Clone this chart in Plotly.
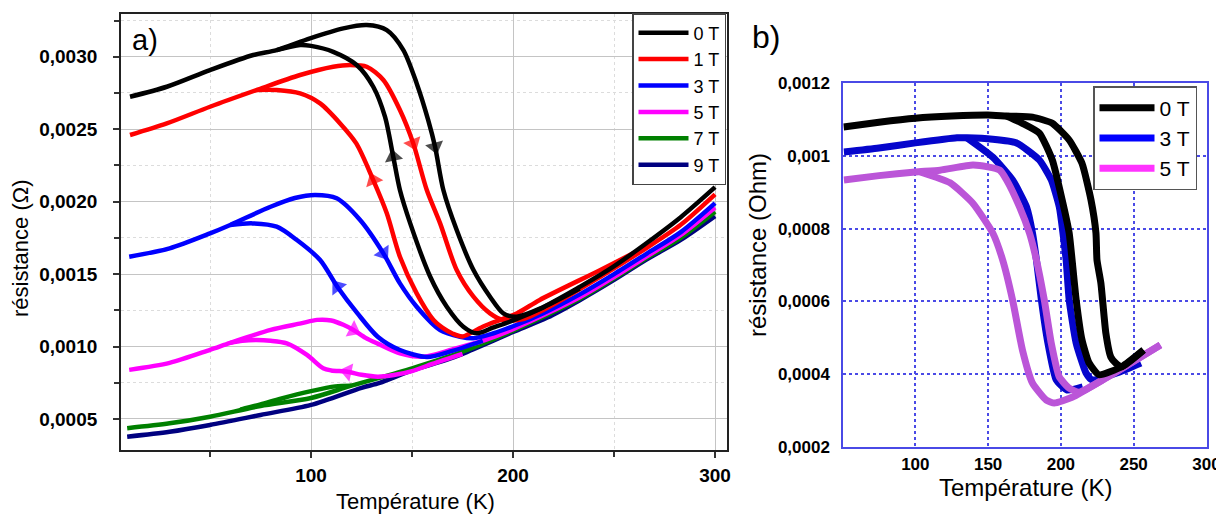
import plotly.graph_objects as go

FONT = "Liberation Sans"
W, H = 1216, 515

# ---------------- Panel a data (T in K, R in Ohm) ----------------
fields_a = ["0 T", "1 T", "3 T", "5 T", "7 T", "9 T"]
colors_a = ["#000000", "#ff0000", "#0000ff", "#ff00ff", "#008000", "#000080"]

T0_warm = [10.4, 28.6, 50, 71.4, 83, 99.5, 116, 127.6, 137.5, 145.7, 152.3, 158, 161.4, 165.5, 172.1,
           180.4, 188.6, 195.2, 201.8, 213, 233, 249.5, 266, 283, 300]
R0_warm = [0.002724, 0.002793, 0.002908, 0.003012, 0.003046, 0.003127, 0.003196, 0.003219, 0.003184,
           0.003046, 0.002816, 0.002563, 0.002379, 0.00208, 0.001804, 0.001528, 0.001344, 0.001229,
           0.001206, 0.00126, 0.001412, 0.00155, 0.001713, 0.001893, 0.0021]
T0_cool = [233, 215, 200, 190, 182, 175.4, 167.2, 159, 149.1, 144, 140.7, 136.6, 130.8, 122.6, 111, 100,
           94.6, 83]
R0_cool = [0.0014, 0.00127, 0.00118, 0.00113, 0.001091, 0.001137, 0.001275, 0.001482, 0.00185, 0.00208,
           0.00231, 0.002586, 0.002793, 0.002943, 0.003034, 0.003075, 0.003081, 0.003046]

T1_warm = [10.4, 28.6, 50, 73, 94.6, 111, 119.3, 127.6, 135.8, 144, 150.6, 157.3, 163.9, 172.1, 180.4,
           188.6, 195.2, 205, 220, 243, 266, 283, 300]
R1_warm = [0.00246, 0.00254, 0.002655, 0.00277, 0.002874, 0.002931, 0.002943, 0.002931, 0.002839,
           0.002632, 0.002402, 0.00208, 0.00185, 0.001528, 0.001344, 0.001229, 0.001183, 0.00119,
           0.00129, 0.00148, 0.00168, 0.00184, 0.00205]
T1_cool = [266, 243, 213, 202, 185, 175, 170, 165, 160.6, 152.3, 144, 137.5, 130.8, 122.4, 114.4, 104.5,
           94.6, 83, 73]
R1_cool = [0.00169, 0.001527, 0.00132, 0.00123, 0.001137, 0.00107, 0.00109, 0.00113, 0.001183, 0.001367,
           0.00162, 0.00192, 0.002149, 0.002402, 0.00254, 0.002678, 0.002747, 0.00277, 0.00277]

T3_warm = [10, 30, 50, 60, 80, 92, 102, 112.7, 124.3, 135.8, 144, 152.3, 163.9, 173.8, 180.3, 190, 200,
           215, 233, 250, 266, 283, 300]
R3_warm = [0.00162, 0.001678, 0.001781, 0.001839, 0.001965, 0.002025, 0.002046, 0.002023, 0.001873,
           0.001643, 0.001436, 0.001275, 0.001114, 0.001068, 0.001057, 0.00109, 0.00114, 0.00123,
           0.00136, 0.0015, 0.00164, 0.00179, 0.00199]
T3_cool = [185, 170, 157.4, 144, 133, 123, 113, 104.5, 93, 83, 71, 60]
R3_cool = [0.00104, 0.00097, 0.000928, 0.000976, 0.001068, 0.001229, 0.001413, 0.001597, 0.001735,
           0.001827, 0.00185, 0.001839]

T5_warm = [10, 30, 50, 60, 80, 95, 103, 110, 116, 121, 127, 133, 144, 156, 170, 185, 200, 233, 250, 266,
           283, 300]
R5_warm = [0.000839, 0.000887, 0.000977, 0.001025, 0.001115, 0.00116, 0.001184, 0.00118, 0.00115,
           0.001114, 0.00106, 0.00102, 0.000953, 0.00093, 0.00098, 0.00104, 0.00112, 0.00134, 0.00148,
           0.00162, 0.00177, 0.00196]
T5_cool = [175, 160, 150, 141, 133, 125, 118, 110, 106, 98, 88, 80, 73, 66, 60]
R5_cool = [0.00095, 0.00088, 0.00083, 0.000803, 0.000792, 0.000805, 0.000826, 0.000835, 0.00085,
           0.000942, 0.001022, 0.00104, 0.001045, 0.00104, 0.001025]

T7_warm = [9, 30, 50, 75, 100, 120, 150, 175, 200, 233, 250, 266, 283, 300]
R7_warm = [0.000436, 0.00047, 0.000516, 0.00059, 0.000645, 0.00073, 0.00085, 0.000965, 0.00111,
           0.00133, 0.00147, 0.00161, 0.00175, 0.00193]
T7_cool = [120, 112, 100, 85, 75, 65]
R7_cool = [0.00073, 0.000725, 0.000692, 0.00064, 0.0006, 0.000565]

T9_warm = [9, 30, 50, 75, 100, 125, 134, 150, 167, 175, 200, 217, 233, 250, 266, 283, 300]
R9_warm = [0.000378, 0.000412, 0.000459, 0.000528, 0.000597, 0.000715, 0.000749, 0.000835, 0.000908,
           0.00095, 0.0011, 0.0012, 0.00132, 0.00146, 0.0016, 0.001736, 0.0019]

# temperatures at which direction arrows sit on each branch
arrows_warm = {"0 T": 161.4, "1 T": 150.6, "3 T": 135.8, "5 T": 121}
arrows_cool = {"0 T": 140.7, "1 T": 130.8, "3 T": 113, "5 T": 118}

ticks_a_y = [0.0005, 0.0010, 0.0015, 0.0020, 0.0025, 0.0030]
minor_a_y = [0.00075, 0.00125, 0.00175, 0.00225, 0.00275, 0.00325]
ticks_a_x = [100, 200, 300]
minor_a_x = [50, 150, 250]

# ---------------- Panel b data ----------------
fields_b = ["0 T", "3 T", "5 T"]
legend_colors_b = ["#000000", "#0000ff", "#ff33ff"]
colors_b = ["#000000", "#0505cc", "#bb55d8"]

Tb0_main = [50.7, 75, 100, 125, 149.8, 162.7, 180.5, 194.1, 205.7, 214.5, 220.7, 224.1, 224.8, 227.5,
            230.9, 234.3, 237.7, 241.8, 256.8]
Rb0_main = [0.00108, 0.001093, 0.001104, 0.00111, 0.001113, 0.00111, 0.001107, 0.00109, 0.001044,
            0.00098, 0.000879, 0.000788, 0.000714, 0.00065, 0.000513, 0.000447, 0.00043, 0.00042,
            0.000466]
Tb0_inner = [162.7, 173.6, 185.2, 194.1, 200.9, 205.7, 207.7, 210.5, 214.5, 219.3, 226.1, 241.8, 256.8]
Rb0_inner = [0.00111, 0.00109, 0.001063, 0.000989, 0.000879, 0.000788, 0.000714, 0.000604, 0.000494,
             0.000431, 0.000398, 0.00042, 0.000466]

Tb3_main = [50.9, 75, 100, 128.6, 135.5, 153.2, 169.5, 185.2, 193.4, 198.9, 203.6, 205.7, 210.5, 217.3,
            221.4, 240, 255]
Rb3_main = [0.001011, 0.001022, 0.001036, 0.00105, 0.00105, 0.001046, 0.001036, 0.000989, 0.000934,
            0.00086, 0.000714, 0.000604, 0.000485, 0.000403, 0.000384, 0.000405, 0.00043]
Tb3_inner = [135.5, 153.2, 166.8, 176.4, 180.5, 183.2, 186.6, 190.7, 196.8, 204.3, 215]
Rb3_inner = [0.00105, 0.000997, 0.000934, 0.00086, 0.000788, 0.000714, 0.000604, 0.000494, 0.000384,
             0.000356, 0.000365]

Tb5_main = [50.9, 75, 100, 117, 139.5, 149.8, 158, 162.7, 171.6, 178.4, 183.2, 188.6, 193.4, 198.9,
            205.7, 212.5, 230.9, 268.4]
Rb5_main = [0.000934, 0.000946, 0.000956, 0.000961, 0.000975, 0.00097, 0.000961, 0.000934, 0.00086,
            0.000788, 0.000714, 0.000604, 0.000485, 0.000392, 0.000361, 0.00035, 0.000389, 0.00048]
Tb5_inner = [103.4, 123.9, 139.5, 153.2, 160, 166.8, 173.6, 180.5, 190, 195.5, 207.7, 230.9, 268.4]
Rb5_inner = [0.000956, 0.000926, 0.00087, 0.000788, 0.000714, 0.000604, 0.000466, 0.000375, 0.000328,
             0.00032, 0.000336, 0.000389, 0.00048]

ticks_b_y = [0.0002, 0.0004, 0.0006, 0.0008, 0.0010, 0.0012]
ticks_b_x = [100, 150, 200, 250, 300]


def px(x):
    return x / W


def py(y):
    return 1 - y / H


fig = go.Figure()

branches_a = {
    "0 T": (T0_warm, R0_warm, T0_cool, R0_cool),
    "1 T": (T1_warm, R1_warm, T1_cool, R1_cool),
    "3 T": (T3_warm, R3_warm, T3_cool, R3_cool),
    "5 T": (T5_warm, R5_warm, T5_cool, R5_cool),
    "7 T": (T7_warm, R7_warm, T7_cool, R7_cool),
    "9 T": (T9_warm, R9_warm, None, None),
}

LW_A = 4.5
for name in reversed(fields_a):
    col = colors_a[fields_a.index(name)]
    tw, rw, tc, rc = branches_a[name]
    fig.add_trace(go.Scatter(x=tw, y=rw, mode="lines", name=name, legendrank=fields_a.index(name) + 1,
                             line=dict(color=col, width=LW_A, shape="spline", smoothing=0.8),
                             xaxis="x", yaxis="y", legend="legend"))
    if tc is not None:
        fig.add_trace(go.Scatter(x=tc, y=rc, mode="lines", showlegend=False,
                                 line=dict(color=col, width=LW_A, shape="spline", smoothing=0.8),
                                 xaxis="x", yaxis="y"))
    for (tt, rr, amap) in ((tw, rw, arrows_warm), (tc, rc, arrows_cool)):
        if tt is None or name not in amap:
            continue
        sizes = [16 if t == amap[name] else 0 for t in tt]
        fig.add_trace(go.Scatter(x=tt, y=rr, mode="markers", showlegend=False, hoverinfo="skip",
                                 marker=dict(symbol="triangle-up", size=sizes, angleref="previous",
                                             color=col, line=dict(width=0)),
                                 xaxis="x", yaxis="y"))

# panel b
branches_b = {
    "0 T": (Tb0_main, Rb0_main, Tb0_inner, Rb0_inner),
    "3 T": (Tb3_main, Rb3_main, Tb3_inner, Rb3_inner),
    "5 T": (Tb5_main, Rb5_main, Tb5_inner, Rb5_inner),
}
LW_B = 7
for name in ["3 T", "5 T", "0 T"]:
    col = colors_b[fields_b.index(name)]
    for tt, rr in ((branches_b[name][0], branches_b[name][1]), (branches_b[name][2], branches_b[name][3])):
        fig.add_trace(go.Scatter(x=tt, y=rr, mode="lines", showlegend=False,
                                 line=dict(color=col, width=LW_B, shape="spline", smoothing=0.5),
                                 xaxis="x2", yaxis="y2"))
for name, lc in zip(fields_b, legend_colors_b):
    fig.add_trace(go.Scatter(x=[None], y=[None], mode="lines", name=name, legend="legend2",
                             line=dict(color=lc, width=LW_B), xaxis="x2", yaxis="y2"))

grid_a = "#c4c4c4"
minor_a = "#dcdcdc"
blue_ax = "#4a4ae6"

fig.update_layout(
    width=W, height=H, autosize=False,
    margin=dict(l=0, r=0, t=0, b=0, pad=0, autoexpand=False),
    paper_bgcolor="white", plot_bgcolor="white",
    separators=",.",
    font=dict(family=FONT, color="black"),
    xaxis=dict(domain=[px(121), px(727)], range=[5.94, 305.9], anchor="y",
               tickvals=ticks_a_x, ticks="outside", ticklen=6, tickwidth=1.5, tickcolor="#333",
               tickfont=dict(size=19, weight="bold", family=FONT), ticklabelstandoff=1,
               showgrid=True, gridcolor=grid_a, gridwidth=1.2, zeroline=False,
               showline=True, linecolor="#222", linewidth=1.8, mirror=True,
               minor=dict(tickvals=minor_a_x, ticks="outside", ticklen=5, tickcolor="#333",
                          showgrid=True, gridcolor=minor_a, griddash="dot", gridwidth=1.2)),
    yaxis=dict(domain=[py(450), py(14)], range=[0.000286, 0.003295], anchor="x",
               tickvals=ticks_a_y, tickformat=".4f", ticks="outside", ticklen=6, tickwidth=1.5,
               tickcolor="#333", tickfont=dict(size=19, weight="bold", family=FONT),
               ticklabelstandoff=12,
               showgrid=True, gridcolor=grid_a, gridwidth=1.2, zeroline=False,
               showline=True, linecolor="#222", linewidth=1.8, mirror=True,
               minor=dict(tickvals=minor_a_y, ticks="outside", ticklen=5, tickcolor="#333",
                          showgrid=True, gridcolor=minor_a, griddash="dot", gridwidth=1.2)),
    xaxis2=dict(domain=[px(843.3), px(1206.7)], range=[50.5, 300.2], anchor="y2",
                tickvals=ticks_b_x, ticks="", tickfont=dict(size=17, weight="bold", family=FONT),
                ticklabelstandoff=1, ticklabeloverflow="allow",
                showgrid=True, gridcolor=blue_ax, gridwidth=1.5, griddash="dot", zeroline=False,
                showline=True, linecolor=blue_ax, linewidth=2, mirror=True),
    yaxis2=dict(domain=[py(446.7), py(83.3)], range=[0.0002, 0.0012], anchor="x2",
                tickvals=ticks_b_y, tickformat=".4~f", ticks="",
                tickfont=dict(size=17, weight="bold", family=FONT), ticklabelstandoff=8,
                showgrid=True, gridcolor=blue_ax, gridwidth=1.5, griddash="dot", zeroline=False,
                showline=True, linecolor=blue_ax, linewidth=2, mirror=True),
    legend=dict(x=px(632), y=py(13), xanchor="left", yanchor="top",
                bgcolor="white", bordercolor="#444", borderwidth=1.5,
                font=dict(size=18, family=FONT), tracegroupgap=0, itemwidth=50,
                traceorder="normal"),
    legend2=dict(x=px(1093), y=py(86), xanchor="left", yanchor="top",
                 bgcolor="white", bordercolor="#555", borderwidth=1.5,
                 font=dict(size=21, family=FONT), tracegroupgap=0, itemwidth=55),
    showlegend=True,
)

annotations = [
    dict(text="a)", x=px(145), y=py(40), font=dict(size=29)),
    dict(text="b)", x=px(766), y=py(37), font=dict(size=32)),
    dict(text="Température (K)", x=px(415), y=py(501), font=dict(size=22)),
    dict(text="résistance (Ω)", x=px(21), y=py(249), font=dict(size=22), textangle=-90),
    dict(text="Température (K)", x=px(1025), y=py(487), font=dict(size=24)),
    dict(text="résistance (Ohm)", x=px(757), y=py(245), font=dict(size=24), textangle=-90),
]
for a in annotations:
    a.update(xref="paper", yref="paper", showarrow=False, xanchor="center", yanchor="middle")
    a["font"].update(family=FONT, color="black")
    fig.add_annotation(**a)

fig.write_html("out.html", config={"displayModeBar": False},
               post_script="document.body.style.margin='0px';document.body.style.overflow='hidden';")
